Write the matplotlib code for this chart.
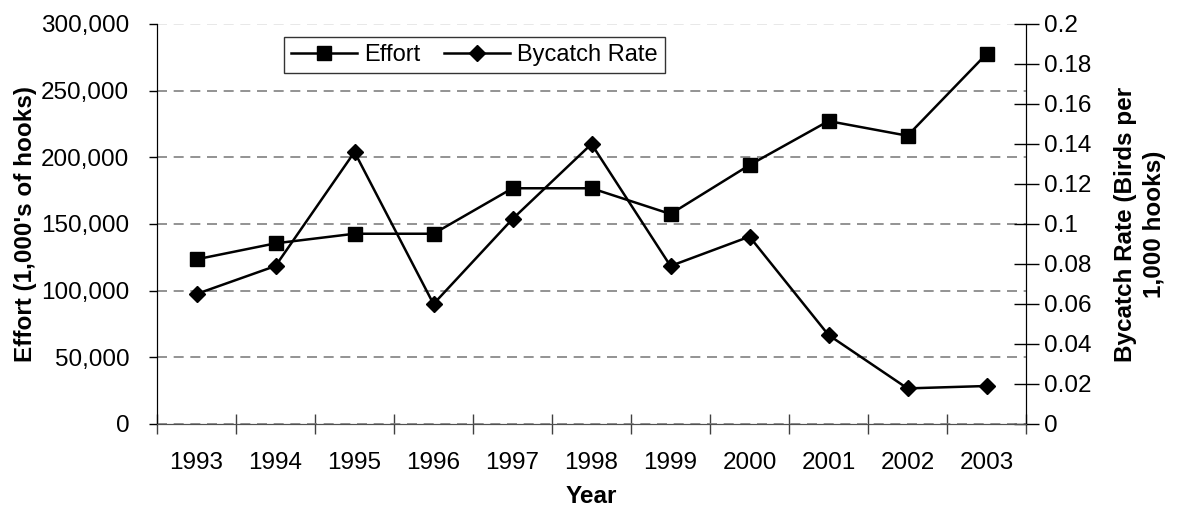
import matplotlib
matplotlib.use('Agg')
import matplotlib.pyplot as plt
from matplotlib.ticker import FuncFormatter, FixedLocator
import numpy as np

plt.rcParams['font.family'] = ['Liberation Sans', 'DejaVu Sans']

years = ['1993', '1994', '1995', '1996', '1997', '1998',
         '1999', '2000', '2001', '2002', '2003']
effort = [123500, 135500, 142700, 142700, 176800, 176800,
          157500, 194200, 227200, 216200, 277500]
bycatch = [0.065, 0.079, 0.136, 0.060, 0.1025, 0.140,
           0.079, 0.0937, 0.0445, 0.0178, 0.019]

fs = 17.5
fig = plt.figure(figsize=(11.78, 5.08), dpi=100)
ax = fig.add_axes([157/1178, 1 - 424/508, (1026 - 157)/1178, 400/508])
ax2 = ax.twinx()

x = np.arange(len(years))
l1, = ax.plot(x, effort, color='black', lw=1.8, marker='s', markersize=9.5,
              label='Effort', zorder=3)
l2, = ax2.plot(x, bycatch, color='black', lw=1.8, marker='D', markersize=8.5,
               label='Bycatch Rate', zorder=3)

ax.set_xlim(-0.5, len(years) - 0.5)
ax.set_ylim(0, 300000)
ax2.set_ylim(0, 0.2)

# x axis: labels at centres, tick marks between categories
ax.set_xticks(x)
ax.set_xticklabels(years, fontsize=fs)
ax.tick_params(axis='x', which='major', length=0, pad=20)
ax.xaxis.set_minor_locator(FixedLocator(np.arange(-0.5, len(years), 1)))
ax.tick_params(axis='x', which='minor', direction='inout', length=15, width=1, color='#404040')

ax.set_yticks(np.arange(0, 300001, 50000))
ax.yaxis.set_major_formatter(FuncFormatter(lambda v, p: f'{int(v):,}'))
ax.tick_params(axis='y', direction='out', length=6, width=1, labelsize=fs, pad=14)

ax2.set_yticks(np.arange(0, 0.2001, 0.02))
ax2.yaxis.set_major_formatter(FuncFormatter(lambda v, p: f'{v:.2f}'.rstrip('0').rstrip('.') if v else '0'))
ax2.tick_params(axis='y', direction='inout', length=18, width=1, labelsize=fs, pad=4)

ax.yaxis.grid(True, linestyle=(0, (6, 4)), color='#808080', lw=1.2)
ax.get_ygridlines()[-1].set_color('#e4e4e4')
ax.set_axisbelow(True)

for a in (ax, ax2):
    a.spines['top'].set_visible(False)
    a.spines['bottom'].set_color('#505050')
    a.spines['left'].set_color('black')
    a.spines['right'].set_color('black')

ax.set_xlabel('Year', fontsize=fs, fontweight='bold', labelpad=8)
ax.set_ylabel("Effort (1,000's of hooks)", fontsize=fs, fontweight='bold', labelpad=3)
ax2.set_ylabel('Bycatch Rate (Birds per\n1,000 hooks)', fontsize=fs, fontweight='bold',
               labelpad=16, linespacing=1.35)

leg = ax.legend(handles=[l1, l2], ncol=2, fontsize=17, loc='upper left',
                bbox_to_anchor=(284/1178, 1 - 37/508), bbox_transform=fig.transFigure,
                frameon=True, fancybox=False, borderpad=0.3, columnspacing=1.0,
                handlelength=2.8, handletextpad=0.3, borderaxespad=0)
leg.get_frame().set_edgecolor('black')
leg.get_frame().set_linewidth(1.0)

fig.savefig('out.png', dpi=100)
